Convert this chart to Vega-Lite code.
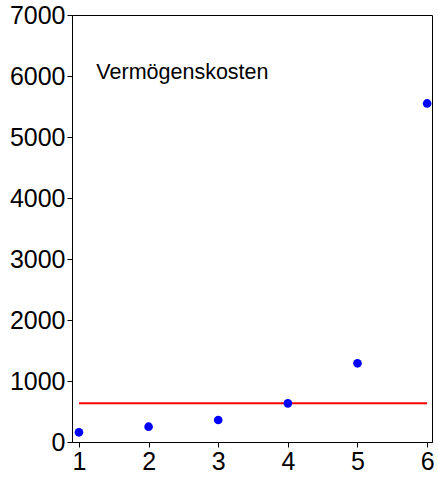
{
  "$schema": "https://vega.github.io/schema/vega-lite/v6.json",
  "width": 360,
  "height": 427,
  "autosize": {"type": "none"},
  "padding": {"left": 72, "top": 15, "right": 6, "bottom": 37},
  "background": "white",
  "config": {
    "view": {"stroke": "black", "strokeWidth": 1},
    "font": "Liberation Sans",
    "axis": {
      "grid": false,
      "domainColor": "black",
      "tickColor": "black",
      "labelColor": "black",
      "labelFont": "Liberation Sans",
      "labelFontSize": 25,
      "tickSize": 5,
      "labelPadding": 2,
      "title": null
    }
  },
  "datasets": {
    "points": [
      {"k": 1, "v": 159},
      {"k": 2, "v": 251},
      {"k": 3, "v": 361},
      {"k": 4, "v": 634},
      {"k": 5, "v": 1290},
      {"k": 6, "v": 5550}
    ],
    "line": [
      {"k": 1, "v": 634},
      {"k": 6, "v": 634}
    ],
    "label": [
      {"k": 1.25, "v": 6050, "text": "Vermögenskosten"}
    ]
  },
  "layer": [
    {
      "data": {"name": "line"},
      "mark": {"type": "line", "color": "#ff0000", "strokeWidth": 2},
      "encoding": {
        "x": {"field": "k", "type": "quantitative", "scale": {"domain": [0.9, 6.07], "nice": false, "zero": false},
              "axis": {"values": [1, 2, 3, 4, 5, 6], "format": "d", "labelFlush": false}},
        "y": {"field": "v", "type": "quantitative", "scale": {"domain": [0, 7000], "nice": false},
              "axis": {"values": [0, 1000, 2000, 3000, 4000, 5000, 6000, 7000], "format": "d"}}
      }
    },
    {
      "data": {"name": "points"},
      "mark": {"type": "circle", "color": "#0000ff", "opacity": 1, "size": 75},
      "encoding": {
        "x": {"field": "k", "type": "quantitative"},
        "y": {"field": "v", "type": "quantitative"}
      }
    },
    {
      "data": {"name": "label"},
      "mark": {"type": "text", "align": "left", "baseline": "middle", "fontSize": 21.5, "font": "Liberation Sans", "color": "black"},
      "encoding": {
        "x": {"field": "k", "type": "quantitative"},
        "y": {"field": "v", "type": "quantitative"},
        "text": {"field": "text"}
      }
    }
  ]
}
